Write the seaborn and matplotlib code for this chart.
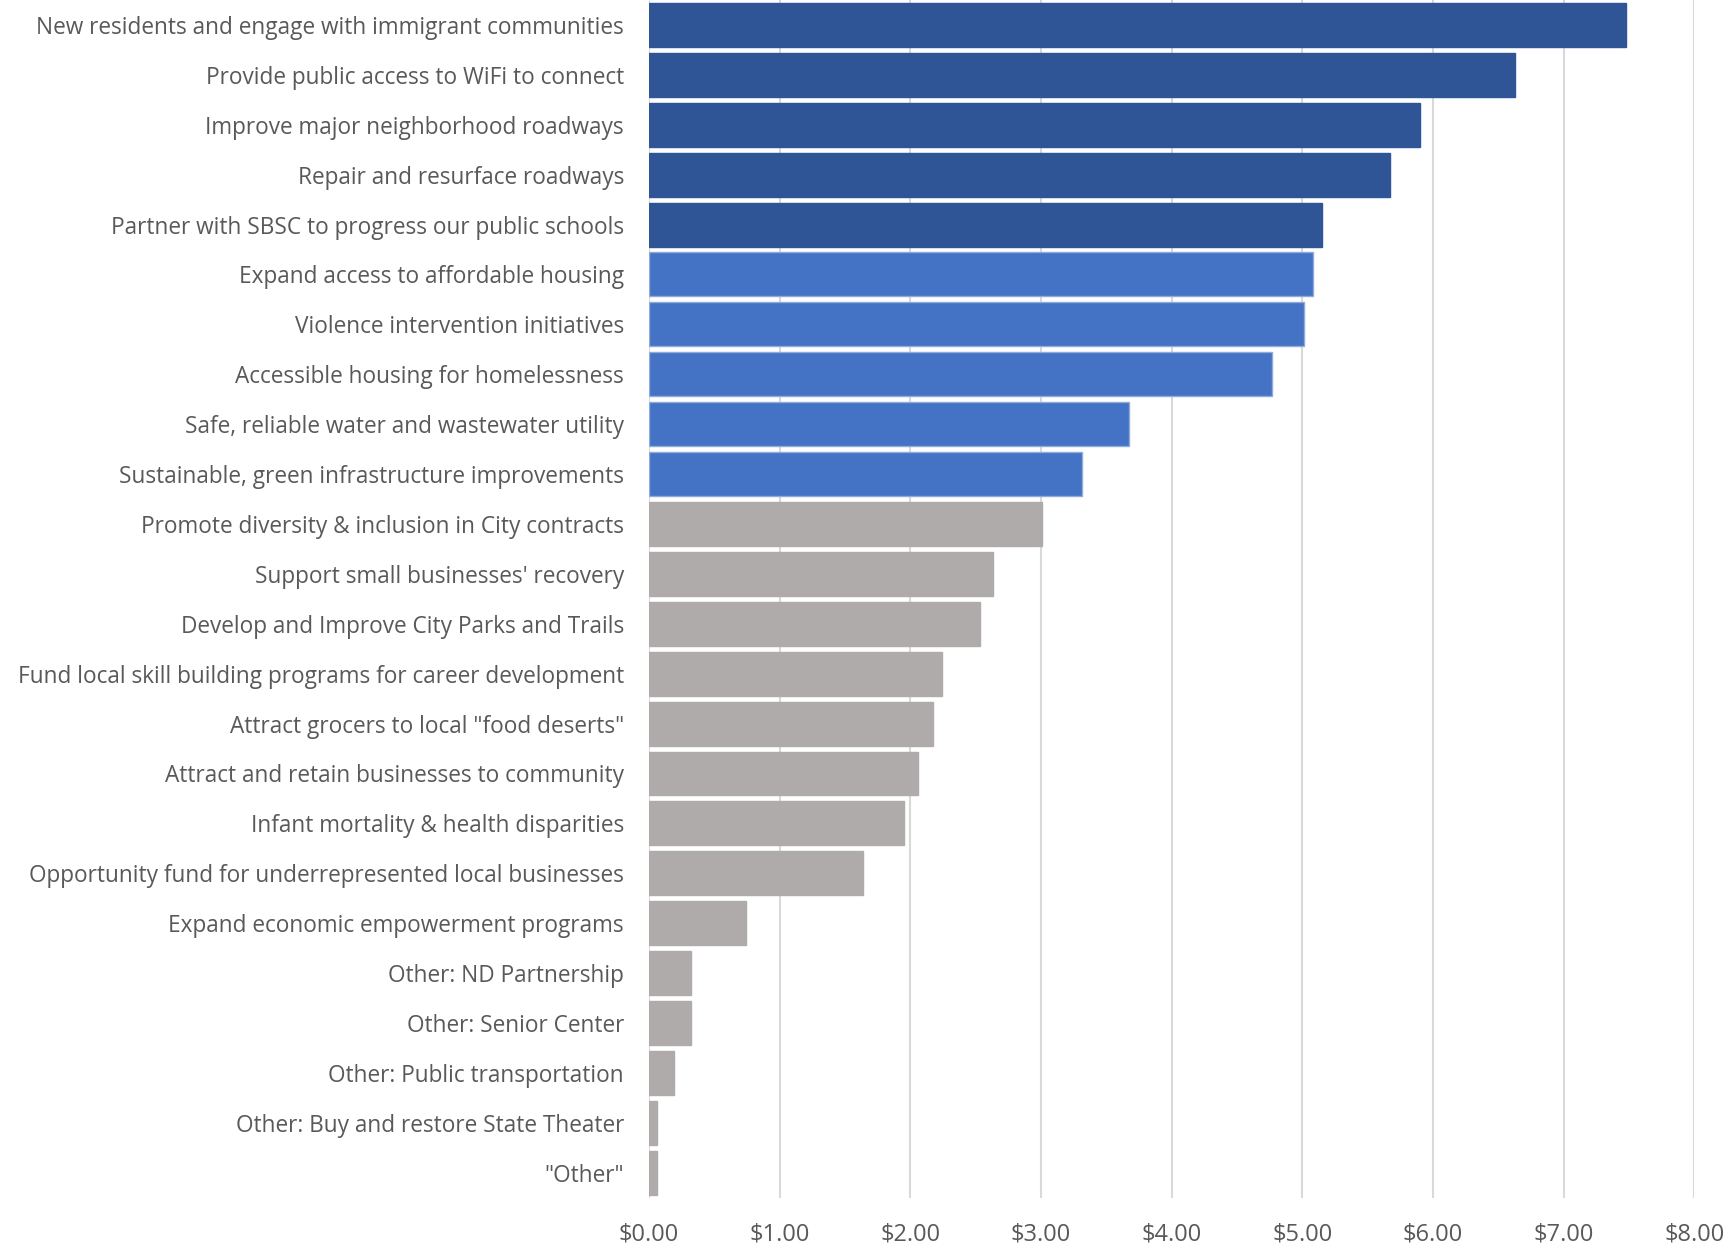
import matplotlib
matplotlib.use("Agg")
import matplotlib.pyplot as plt
import seaborn as sns
import pandas as pd
from matplotlib.ticker import FuncFormatter

categories = [
    "New residents and engage with immigrant communities",
    "Provide public access to WiFi to connect",
    "Improve major neighborhood roadways",
    "Repair and resurface roadways",
    "Partner with SBSC to progress our public schools",
    "Expand access to affordable housing",
    "Violence intervention initiatives",
    "Accessible housing for homelessness",
    "Safe, reliable water and wastewater utility",
    "Sustainable, green infrastructure improvements",
    "Promote diversity & inclusion in City contracts",
    "Support small businesses' recovery",
    "Develop and Improve City Parks and Trails",
    "Fund local skill building programs for career development",
    "Attract grocers to local \"food deserts\"",
    "Attract and retain businesses to community",
    "Infant mortality & health disparities",
    "Opportunity fund for underrepresented local businesses",
    "Expand economic empowerment programs",
    "Other: ND Partnership",
    "Other: Senior Center",
    "Other: Public transportation",
    "Other: Buy and restore State Theater",
    "\"Other\"",
]
amounts = [7.48, 6.63, 5.90, 5.67, 5.15, 5.08, 5.01, 4.77, 3.67, 3.31,
           3.01, 2.63, 2.53, 2.24, 2.17, 2.06, 1.95, 1.64, 0.74, 0.32,
           0.32, 0.19, 0.06, 0.06]
tiers = ["top"] * 5 + ["high"] * 5 + ["rest"] * 14

tier_colors = {"top": "#2F5597", "high": "#4472C4", "rest": "#AFABAB"}
tier_edges = {"top": "#2F5597", "high": "#8FAADC", "rest": "#AFABAB"}

df = pd.DataFrame({"category": categories, "amount": amounts, "tier": tiers})

sns.set_theme(style="white")
plt.rcParams["font.family"] = ["Open Sans", "DejaVu Sans"]

fig = plt.figure(figsize=(17.29, 12.53), dpi=100)
ax = fig.add_axes([0.3754, 0.0442, 0.6045, 0.9558])

palette = [tier_colors[t] for t in tiers]
sns.barplot(data=df, x="amount", y="category", hue="category",
            palette=palette, saturation=1, legend=False, orient="h",
            width=0.88, ax=ax, zorder=3)

for patch, t in zip(ax.patches, tiers):
    patch.set_edgecolor(tier_edges[t])
    patch.set_linewidth(1.0)

ax.set_xlim(0, 8)
ax.set_ylim(len(categories) - 0.5, -0.5)
ax.set_xticks(range(0, 9))
ax.xaxis.set_major_formatter(FuncFormatter(lambda v, p: f"${v:.2f}"))
ax.grid(axis="x", color="#D9D9D9", linewidth=1.5, zorder=0)
ax.grid(axis="y", visible=False)
for side in ["top", "right", "bottom", "left"]:
    ax.spines[side].set_visible(False)

ax.tick_params(axis="y", length=0, pad=18, labelsize=16.3, labelcolor="#595959")
ax.tick_params(axis="x", length=0, pad=18, labelsize=17, labelcolor="#595959")
ax.set_xlabel("")
ax.set_ylabel("")

fig.savefig("out.png", dpi=100, facecolor="white")
